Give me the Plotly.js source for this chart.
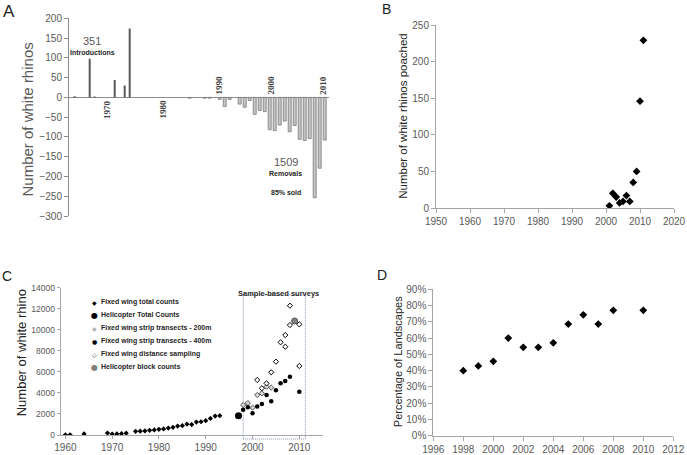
<!DOCTYPE html>
<html><head><meta charset="utf-8">
<script src="https://cdn.plot.ly/plotly-3.0.1.min.js"></script>
<style>html,body{margin:0;padding:0;background:#fff}#chart{width:687px;height:455px}</style>
</head><body><div id="chart"></div>
<script>
// ---------- Panel A: introductions / removals ----------
const introYears = [1961, 1964, 1965, 1969, 1971, 1972];
const introValues = [3, 98, 2, 44, 30, 174];
const removalYears = [1984, 1987, 1988, 1990, 1991, 1992, 1994, 1995, 1996, 1997, 1998, 1999, 2000, 2001, 2002, 2003, 2004, 2005, 2006, 2007, 2008, 2009, 2010, 2011];
const removalValues = [-2, -2, -2, -5, -23, -5, -17, -25, -8, -43, -33, -36, -82, -84, -70, -60, -87, -71, -106, -109, -104, -254, -179, -108];
const yearLabelsA = ['1970', '1980', '1990', '2000', '2010'];

// ---------- Panel B: poached ----------
const poachYears = [2001, 2002, 2003, 2004, 2005, 2006, 2007, 2008, 2009, 2010, 2011];
const poachValues = [3, 20, 15, 7, 9, 17, 9, 35, 50, 146, 229];

// ---------- Panel C: population estimates ----------
const fwTotalYears = [1960, 1961, 1964, 1969, 1970, 1971, 1972, 1973, 1975, 1976, 1977, 1978, 1979, 1980, 1981, 1982, 1983, 1984, 1985, 1986, 1987, 1988, 1989, 1990, 1991, 1992, 1993];
const fwTotalValues = [20, 20, 100, 190, 90, 100, 130, 170, 350, 360, 390, 440, 480, 540, 580, 660, 730, 850, 890, 1040, 990, 1230, 1260, 1360, 1580, 1800, 1840];
const heliTotalYears = [1997];
const heliTotalValues = [1830];
const strip200Years = [1998, 1999, 2000, 2001, 2002, 2003, 2004];
const strip200Values = [2850, 3040, 2600, 3800, 3960, 4590, 4500];
const strip400Years = [1998, 1999, 2000, 2001, 2002, 2003, 2004, 2005, 2006, 2007, 2008, 2010];
const strip400Values = [2400, 2630, 2060, 2720, 2950, 3800, 3200, 4250, 4910, 5130, 5540, 4120];
const distYears = [2001, 2002, 2003, 2004, 2005, 2006, 2007, 2007, 2008, 2008, 2010, 2010];
const distValues = [5230, 4440, 4910, 5960, 6970, 8810, 8390, 9500, 10450, 12290, 10520, 6560];
const heliBlockYears = [2009];
const heliBlockValues = [10840];
const legendNamesC = ['Fixed wing total counts', 'Helicopter Total Counts', 'Fixed wing strip transects - 200m', 'Fixed wing strip transects - 400m', 'Fixed wing distance sampling', 'Helicopter block counts'];

// ---------- Panel D: landscapes ----------
const landYears = [1998, 1999, 2000, 2001, 2002, 2003, 2004, 2005, 2006, 2007, 2008, 2010];
const landShare = [0.400, 0.429, 0.457, 0.600, 0.543, 0.543, 0.571, 0.686, 0.743, 0.686, 0.771, 0.771];

// ---------- helpers ----------
const W = 687, H = 455;
const px = v => v / W, py = v => 1 - v / H;
const SANS = 'Liberation Sans, Arial, sans-serif';
const tickFont = {family: SANS, size: 10, color: '#595959'};
const base = {showgrid: false, zeroline: false, showline: true, linecolor: '#a6a6a6', linewidth: 1,
  ticks: 'outside', ticklen: 4, tickcolor: '#a6a6a6', tickfont: tickFont, fixedrange: true};

const traces = [
  {type: 'bar', x: introYears, y: introValues, xaxis: 'x', yaxis: 'y', width: 0.4,
   marker: {color: '#595959'}, name: 'Introductions', showlegend: false},
  {type: 'bar', x: removalYears, y: removalValues, xaxis: 'x', yaxis: 'y', width: 0.6,
   marker: {color: '#c4c4c4', line: {color: '#7a7a7a', width: 0.8}}, name: 'Removals', showlegend: false},
  {type: 'scatter', mode: 'markers', x: poachYears, y: poachValues, xaxis: 'x2', yaxis: 'y2',
   marker: {symbol: 'diamond', size: 6, color: '#000'}, showlegend: false},
  {type: 'scatter', mode: 'markers', x: fwTotalYears, y: fwTotalValues, xaxis: 'x3', yaxis: 'y3', name: legendNamesC[0],
   marker: {symbol: 'diamond', size: 4, color: '#000'}, showlegend: false},
  {type: 'scatter', mode: 'markers', x: heliTotalYears, y: heliTotalValues, xaxis: 'x3', yaxis: 'y3', name: legendNamesC[1],
   marker: {symbol: 'circle', size: 7, color: '#000'}, showlegend: false},
  {type: 'scatter', mode: 'markers', x: strip200Years, y: strip200Values, xaxis: 'x3', yaxis: 'y3', name: legendNamesC[2],
   marker: {symbol: 'diamond', size: 4, color: '#d9d9d9', line: {color: '#555', width: 1}}, showlegend: false},
  {type: 'scatter', mode: 'markers', x: strip400Years, y: strip400Values, xaxis: 'x3', yaxis: 'y3', name: legendNamesC[3],
   marker: {symbol: 'circle', size: 4.5, color: '#000'}, showlegend: false},
  {type: 'scatter', mode: 'markers', x: distYears, y: distValues, xaxis: 'x3', yaxis: 'y3', name: legendNamesC[4],
   marker: {symbol: 'diamond', size: 4, color: '#fff', line: {color: '#000', width: 1}}, showlegend: false},
  {type: 'scatter', mode: 'markers', x: heliBlockYears, y: heliBlockValues, xaxis: 'x3', yaxis: 'y3', name: legendNamesC[5],
   marker: {symbol: 'circle', size: 6, color: '#7f7f7f', line: {color: '#404040', width: 0.8}}, showlegend: false},
  {type: 'scatter', mode: 'markers', x: landYears, y: landShare, xaxis: 'x4', yaxis: 'y4',
   marker: {symbol: 'diamond', size: 6, color: '#000'}, showlegend: false}
];

const ann = (text, x, y, font, extra) => Object.assign({xref: 'paper', yref: 'paper', x: px(x), y: py(y), text: text,
  showarrow: false, xanchor: 'center', yanchor: 'middle', font: font}, extra || {});

const annotations = [
  ann('A', 9, 11, {family: SANS, size: 17, color: '#222'}),
  ann('B', 386.7, 9, {family: SANS, size: 14, color: '#222'}),
  ann('C', 7.2, 275.7, {family: SANS, size: 14, color: '#222'}),
  ann('D', 381.7, 274.7, {family: SANS, size: 14, color: '#222'}),
  ann('Number of white rhinos', 27.5, 120, {family: SANS, size: 15, color: '#595959'}, {textangle: -90}),
  ann('Number of white rhinos poached', 402.8, 116, {family: SANS, size: 11.5, color: '#262626'}, {textangle: -90}),
  ann('Number of white rhino', 21.5, 352.8, {family: SANS, size: 13, color: '#262626'}, {textangle: -90}),
  ann('Percentage of Landscapes', 397.5, 361.7, {family: SANS, size: 11, color: '#262626'}, {textangle: -90}),
  ann('351', 91.7, 40.8, {family: SANS, size: 11, color: '#595959'}),
  ann('Introductions', 92.5, 52, {family: SANS, size: 7, color: '#262626', weight: 'bold'}),
  ann('1509', 285.8, 162, {family: SANS, size: 11, color: '#595959'}),
  ann('Removals', 285.5, 173.7, {family: SANS, size: 7, color: '#262626', weight: 'bold'}),
  ann('85% sold', 285.8, 192.5, {family: SANS, size: 7, color: '#262626', weight: 'bold'}),
  ann('Sample-based surveys', 278, 293.5, {family: SANS, size: 7.5, color: '#262626', weight: 'bold'})
];
// Panel A year labels (text boxes in the original)
const yearLabelPos = [[106.7, 109.2], [163.3, 109.2], [218.5, 85], [270, 85.5], [322.3, 85.5]];
yearLabelsA.forEach((t, i) => annotations.push(ann(t, yearLabelPos[i][0], yearLabelPos[i][1],
  {family: 'Liberation Serif, serif', size: 9, color: '#404040', weight: 'bold'}, {textangle: -90})));
// Panel C legend
const legendGlyphs = [
  {g: '◆', c: '#000', s: 6}, {g: '●', c: '#000', s: 8}, {g: '◆', c: '#b0b0b0', s: 6},
  {g: '●', c: '#000', s: 6}, {g: '◇', c: '#000', s: 6}, {g: '●', c: '#7f7f7f', s: 8}];
legendNamesC.forEach((name, i) => {
  const y = 302.3 + i * 13;
  annotations.push(ann(legendGlyphs[i].g, 94.5, y, {family: 'DejaVu Sans, sans-serif', size: legendGlyphs[i].s, color: legendGlyphs[i].c}));
  annotations.push(ann(name, 98.5, y, {family: SANS, size: 7, color: '#262626', weight: 'bold'}, {xanchor: 'left'}));
});

const layout = {
  width: W, height: H, margin: {l: 0, r: 0, t: 0, b: 0},
  paper_bgcolor: '#fff', plot_bgcolor: 'rgba(0,0,0,0)',
  barmode: 'overlay', showlegend: false, font: {family: SANS},
  xaxis: Object.assign({}, base, {domain: [px(69), px(329.2)], range: [1959.86, 2011.9], anchor: 'y',
    showline: false, showticklabels: false, ticks: ''}),
  yaxis: Object.assign({}, base, {domain: [py(216), py(18.3)], range: [-300, 200], dtick: 50, anchor: 'x',
    zeroline: true, zerolinecolor: '#8c8c8c', zerolinewidth: 1, linecolor: '#8c8c8c', tickcolor: '#8c8c8c'}),
  xaxis2: Object.assign({}, base, {domain: [px(436), px(674)], range: [1950, 2020], dtick: 10, anchor: 'y2'}),
  yaxis2: Object.assign({}, base, {domain: [py(208), py(25)], range: [0, 250], dtick: 50, anchor: 'x2'}),
  xaxis3: Object.assign({}, base, {domain: [px(60.7), px(322.7)], range: [1959, 2015], tickvals: [1960, 1970, 1980, 1990, 2000, 2010], anchor: 'y3', ticklen: 3}),
  yaxis3: Object.assign({}, base, {domain: [py(435), py(287.7)], range: [0, 14000], dtick: 2000, tickformat: 'd', anchor: 'x3',
    ticklen: 3, tickfont: {family: SANS, size: 8.5, color: '#595959'}}),
  xaxis4: Object.assign({}, base, {domain: [px(433.3), px(673.3)], range: [1996, 2012], dtick: 2, anchor: 'y4'}),
  yaxis4: Object.assign({}, base, {domain: [py(435.7), py(289.3)], range: [0, 0.9], dtick: 0.1, tickformat: '.0%', anchor: 'x4'}),
  shapes: [{type: 'rect', xref: 'x3', yref: 'paper', x0: 1998, x1: 2011.3, y0: py(439), y1: py(295),
    line: {color: '#8496b0', width: 1, dash: '1px,1px'}, fillcolor: 'rgba(0,0,0,0)', layer: 'below'}],
  annotations: annotations
};

Plotly.newPlot('chart', traces, layout, {displayModeBar: false, staticPlot: true});
</script></body></html>
